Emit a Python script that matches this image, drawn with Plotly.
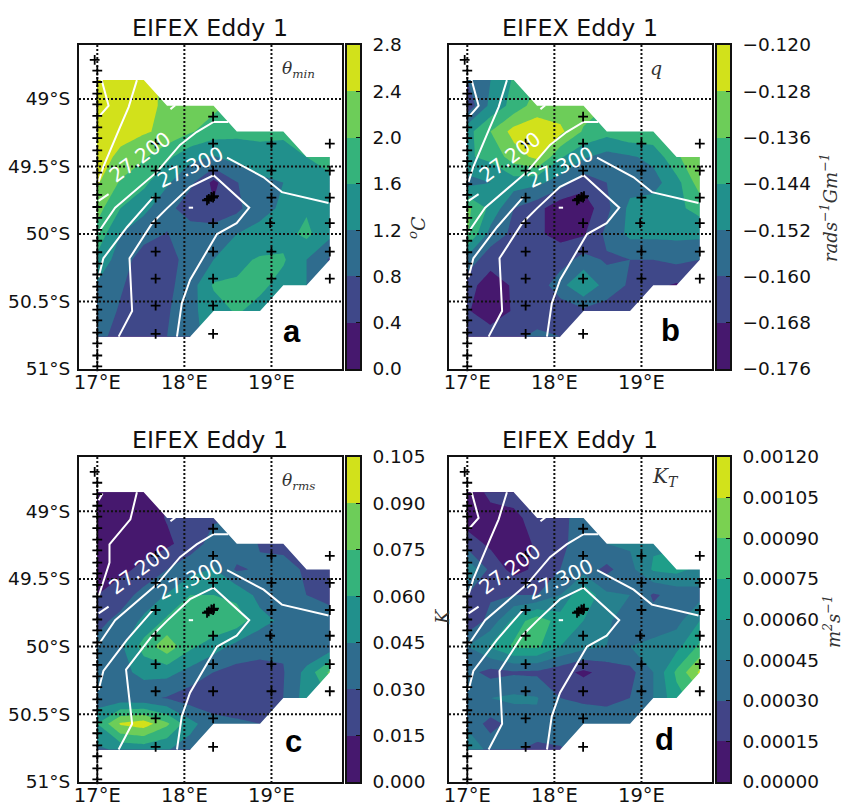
import plotly.graph_objects as go

# ---------- data grid ----------
LON_GRID = [17.0, 17.267, 17.534, 17.801, 18.068, 18.335, 18.602, 18.869, 19.136, 19.403, 19.67]
LAT_GRID = [48.86, 49.05, 49.24, 49.43, 49.62, 49.81, 50.0, 50.19, 50.38, 50.57, 50.76]
ROW_LAST = [2, 5, 8, 10, 10, 10, 10, 10, 9, 7, 4]

THETA_MIN = [
    [2.6, 2.6, 2.5],
    [2.6, 2.6, 2.55, 2.3, 2.2, 2.1],
    [2.6, 2.55, 2.45, 2.3, 2.05, 1.8, 1.7, 1.7, 1.65],
    [2.6, 2.3, 2.05, 1.7, 1.3, 1.17, 1.35, 1.45, 1.5, 1.6, 1.75],
    [2.45, 1.95, 1.7, 1.25, 0.9, 0.3, 0.78, 1.1, 1.2, 1.35, 1.5],
    [2.15, 1.6, 1.3, 0.95, 0.55, 0.45, 0.7, 1.1, 1.25, 1.55, 1.35],
    [1.85, 1.2, 0.95, 0.78, 1.05, 1.05, 1.2, 1.3, 1.45, 1.7, 1.3],
    [1.5, 1.0, 0.6, 0.6, 1.0, 1.2, 1.5, 1.65, 1.65, 1.2, 0.75],
    [1.15, 0.85, 0.55, 0.7, 1.0, 1.65, 1.65, 1.7, 1.45, 1.2],
    [1.05, 0.75, 0.5, 0.75, 1.1, 1.4, 1.65, 1.45],
    [1.0, 0.55, 0.5, 0.8, 1.1],
]
PV_Q = [
    [-0.160, -0.152, -0.143],
    [-0.165, -0.150, -0.141, -0.132, -0.133, -0.132],
    [-0.147, -0.136, -0.125, -0.123, -0.126, -0.137, -0.141, -0.137, -0.137],
    [-0.145, -0.142, -0.132, -0.126, -0.143, -0.151, -0.155, -0.153, -0.150, -0.137, -0.131],
    [-0.155, -0.152, -0.148, -0.150, -0.156, -0.165, -0.160, -0.155, -0.155, -0.147, -0.132],
    [-0.134, -0.146, -0.160, -0.165, -0.174, -0.173, -0.162, -0.150, -0.148, -0.146, -0.141],
    [-0.135, -0.155, -0.162, -0.167, -0.170, -0.169, -0.158, -0.150, -0.150, -0.150, -0.150],
    [-0.155, -0.165, -0.167, -0.167, -0.164, -0.157, -0.161, -0.160, -0.160, -0.158, -0.160],
    [-0.165, -0.172, -0.167, -0.165, -0.155, -0.144, -0.156, -0.161, -0.166, -0.169],
    [-0.167, -0.174, -0.167, -0.165, -0.165, -0.162, -0.163, -0.165],
    [-0.160, -0.163, -0.162, -0.158, -0.160],
]
THETA_RMS = [
    [0.010, 0.008, 0.008],
    [0.010, 0.008, 0.008, 0.016, 0.022, 0.028],
    [0.012, 0.009, 0.010, 0.012, 0.022, 0.036, 0.038, 0.029, 0.026],
    [0.012, 0.012, 0.018, 0.030, 0.040, 0.046, 0.028, 0.032, 0.035, 0.028, 0.027],
    [0.015, 0.022, 0.036, 0.046, 0.060, 0.060, 0.056, 0.040, 0.038, 0.030, 0.028],
    [0.025, 0.035, 0.048, 0.063, 0.070, 0.073, 0.068, 0.050, 0.042, 0.035, 0.033],
    [0.035, 0.042, 0.066, 0.085, 0.063, 0.052, 0.040, 0.035, 0.032, 0.030, 0.036],
    [0.030, 0.040, 0.050, 0.050, 0.040, 0.030, 0.025, 0.025, 0.029, 0.050, 0.078],
    [0.035, 0.035, 0.033, 0.029, 0.022, 0.022, 0.022, 0.025, 0.030, 0.052],
    [0.060, 0.092, 0.098, 0.078, 0.050, 0.035, 0.032, 0.030],
    [0.042, 0.048, 0.050, 0.046, 0.038],
]
K_T = [
    [0.00010, 0.00017, 0.00020],
    [0.00008, 0.00012, 0.00012, 0.00020, 0.00025, 0.00038],
    [0.00022, 0.00012, 0.00008, 0.00017, 0.00025, 0.00040, 0.00045, 0.00047, 0.00058],
    [0.00060, 0.00025, 0.00010, 0.00018, 0.00030, 0.00038, 0.00026, 0.00040, 0.00062, 0.00065, 0.00055],
    [0.00030, 0.00028, 0.00030, 0.00030, 0.00045, 0.00075, 0.00048, 0.00045, 0.00028, 0.00035, 0.00040],
    [0.00018, 0.00035, 0.00065, 0.00085, 0.00068, 0.00060, 0.00048, 0.00035, 0.00035, 0.00040, 0.00060],
    [0.00045, 0.00062, 0.00078, 0.00078, 0.00060, 0.00050, 0.00045, 0.00045, 0.00050, 0.00055, 0.00078],
    [0.00035, 0.00025, 0.00028, 0.00027, 0.00020, 0.00012, 0.00020, 0.00025, 0.00045, 0.00078, 0.00108],
    [0.00040, 0.00045, 0.00048, 0.00046, 0.00030, 0.00027, 0.00025, 0.00030, 0.00045, 0.00070],
    [0.00040, 0.00025, 0.00035, 0.00042, 0.00042, 0.00040, 0.00040, 0.00042],
    [0.00062, 0.00038, 0.00032, 0.00025, 0.00028],
]

# ---------- stations ----------
STATION_LON = [16.97] + [17.0] * 27 + [17.67] * 8 + [18.33] * 9 + [19.0, 19.0, 19.0, 18.985, 19.0, 19.0] + [19.67] * 6 + [18.26, 18.28, 18.31, 18.34]
STATION_LAT = [48.71,
    48.79, 48.874, 48.96, 49.04, 49.125, 49.21, 49.29, 49.38, 49.46, 49.545, 49.63, 49.71, 49.80, 49.88,
    49.97, 50.05, 50.135, 50.22, 50.30, 50.39, 50.47, 50.56, 50.64, 50.73, 50.81, 50.90, 50.98,
    49.33, 49.53, 49.73, 49.92, 50.13, 50.33, 50.53, 50.74,
    49.13, 49.33, 49.53, 49.73, 49.92, 50.13, 50.33, 50.53, 50.74,
    49.33, 49.53, 49.73, 49.92, 50.13, 50.33,
    49.33, 49.53, 49.73, 49.92, 50.13, 50.33,
    49.75, 49.74, 49.725, 49.72]

# ---------- isopycnals ----------
ISO_SMALL = ([17.02, 17.13, 17.05], [49.13, 49.05, 48.86])
ISO_SMALL_C = ([17.015, 17.06], [48.92, 48.87])
ISO_B = ([17.015, 17.07, 17.26, 17.36, 17.455], [49.615, 49.50, 49.21, 49.06, 48.86])
ISO_B_C = ([17.015, 17.14, 17.14, 17.38, 17.455], [49.63, 49.38, 49.245, 49.06, 48.86])
ISO_C1 = ([17.015, 17.13], [49.755, 49.705])
ISO_C2 = ([17.84, 17.895], [49.075, 49.047])
ISO_D = ([17.015, 17.205, 17.685, 17.95, 18.14, 18.335, 18.505], [49.985, 49.805, 49.54, 49.34, 49.245, 49.17, 49.17])
ISO_E1 = ([17.015, 17.07, 17.34, 17.645], [50.32, 50.18, 49.95, 49.725])
ISO_E2 = ([18.49, 18.91, 19.12, 19.655], [49.435, 49.58, 49.69, 49.77])
ISO_F = ([17.245, 17.40, 17.37, 17.63, 17.80, 18.065, 18.335, 18.745, 18.60, 18.375, 18.065, 17.97, 17.915],
         [50.76, 50.57, 50.18, 49.92, 49.81, 49.65, 49.565, 49.805, 49.92, 50.0, 50.34, 50.515, 50.76])
ISO_F_C = ([17.245, 17.40, 17.33, 17.63, 17.80, 18.065, 18.335, 18.745, 18.60, 18.375, 18.065, 17.97, 17.915],
           [50.76, 50.57, 50.17, 49.92, 49.81, 49.65, 49.565, 49.805, 49.92, 50.0, 50.34, 50.515, 50.76])
ISO_SPOT = ([18.05, 18.10], [49.805, 49.805])

LABEL_TEXT = ["27.200", "27.300"]
LABEL_LON = [17.49, 18.07]
LABEL_LAT = [49.43, 49.50]

# ---------- ticks ----------
LON_TICKS = [17, 18, 19]
LON_LABELS = ["17°E", "18°E", "19°E"]
LAT_TICKS = [49, 49.5, 50, 50.5, 51]
LAT_LABELS = ["49°S", "49.5°S", "50°S", "50.5°S", "51°S"]

CB_A = [0.0, 0.4, 0.8, 1.2, 1.6, 2.0, 2.4, 2.8]
CB_B = [-0.176, -0.168, -0.160, -0.152, -0.144, -0.136, -0.128, -0.120]
CB_C = [0.000, 0.015, 0.030, 0.045, 0.060, 0.075, 0.090, 0.105]
CB_D = [0.00000, 0.00015, 0.00030, 0.00045, 0.00060, 0.00075, 0.00090, 0.00105, 0.00120]

COLORS_7 = ["#46186e", "#3f4889", "#2f6c8e", "#21908c", "#35b37b", "#6dcd59", "#d2e11b"]
COLORS_8 = ["#46186e", "#414487", "#2f6b8e", "#26818e", "#1f9e89", "#3dbc74", "#7ad151", "#d2e21b"]

# ---------- layout helpers ----------
W, H = 845, 803
def pad(rows):
    return [r + [None] * (len(LON_GRID) - len(r)) for r in rows]

def scale(colors):
    n = len(colors) + 1
    out = [[0, colors[0]]]
    for i, c in enumerate(colors):
        out.append([(i + 1) / n, c])
    out.append([1, colors[-1]])
    return out

def mask_path():
    over = 0.02
    xs, ys = [LON_GRID[ROW_LAST[0]]], [LAT_GRID[0] - over]
    for j, last in enumerate(ROW_LAST):
        y = LAT_GRID[j]
        if j > 0 and last > ROW_LAST[j - 1]:
            xs.append(LON_GRID[ROW_LAST[j - 1] + 1]); ys.append(y)
        xs.append(LON_GRID[last]); ys.append(y)
        if j + 1 < len(ROW_LAST) and ROW_LAST[j + 1] < last:
            xs.append(LON_GRID[ROW_LAST[j + 1] + 1]); ys.append(y)
    xs += [LON_GRID[ROW_LAST[-1]], LON_GRID[-1] + over, LON_GRID[-1] + over]
    ys += [LAT_GRID[-1] + over, LAT_GRID[-1] + over, LAT_GRID[0] - over]
    return xs, ys

panels = [
    dict(z=THETA_MIN, cb=CB_A, colors=COLORS_7, fmt=".1f", l=79, t=45, b=369, cbx=347, ylab=True,
         sym="<i>θ<sub>min</sub></i>", symsize=17, symx=298, symy=69, let="a", letx=292, lety=331),
    dict(z=PV_Q, cb=CB_B, colors=COLORS_7, fmt=".3f", l=449, t=45, b=369, cbx=717, ylab=False,
         sym="<i>q</i>", symsize=19, symx=656, symy=68, let="b", letx=670, lety=330),
    dict(z=THETA_RMS, cb=CB_C, colors=COLORS_7, fmt=".3f", l=79, t=457, b=782, cbx=347, ylab=True,
         sym="<i>θ<sub>rms</sub></i>", symsize=17, symx=298, symy=482, let="c", letx=293, lety=741),
    dict(z=K_T, cb=CB_D, colors=COLORS_8, fmt=".5f", l=449, t=457, b=782, cbx=717, ylab=False,
         sym="<i>K<sub>T</sub></i>", symsize=20, symx=665, symy=477, let="d", letx=664, lety=739),
]

FONT = "DejaVu Sans"
SERIF = "DejaVu Serif"
INK = "#111111"
fig = go.Figure()
layout_axes = {}
annotations = []
def ann(px, py, text, size, family=FONT, angle=0, color=INK):
    annotations.append(dict(xref="paper", yref="paper", x=px / W, y=1 - py / H, text=text, showarrow=False,
                            xanchor="center", yanchor="middle", textangle=angle,
                            font=dict(size=size, family=family, color=color)))

mx, my = mask_path()
for k, p in enumerate(panels, start=1):
    xa, ya = f"x{k}", f"y{k}"
    step = p["cb"][1] - p["cb"][0]
    fig.add_trace(go.Contour(
        x=LON_GRID, y=LAT_GRID, z=pad(p["z"]), connectgaps=True, xaxis=xa, yaxis=ya,
        autocontour=False, hoverinfo="skip", showscale=False,
        contours=dict(start=p["cb"][0], end=p["cb"][-1], size=step, coloring="fill", showlines=False),
        line=dict(width=0, smoothing=0), colorscale=scale(p["colors"]),
    ))
    # white mask outside the data footprint
    fig.add_trace(go.Scatter(x=mx, y=my, mode="none", fill="toself", fillcolor="white",
                             xaxis=xa, yaxis=ya, showlegend=False, hoverinfo="skip"))
    # dotted graticule
    for v in LON_TICKS:
        fig.add_trace(go.Scatter(x=[v, v], y=[48.6, 51.0], mode="lines", xaxis=xa, yaxis=ya, showlegend=False,
                                 hoverinfo="skip", line=dict(color=INK, width=2, dash="2px,2px")))
    for v in LAT_TICKS[:-1]:
        fig.add_trace(go.Scatter(x=[16.79, 19.81], y=[v, v], mode="lines", xaxis=xa, yaxis=ya, showlegend=False,
                                 hoverinfo="skip", line=dict(color=INK, width=2, dash="2px,2px")))
    # isopycnals
    small = ISO_SMALL_C if k == 3 else ISO_SMALL
    iso_b = ISO_B_C if k == 3 else ISO_B
    iso_f = ISO_F_C if k == 3 else ISO_F
    for lx, ly in [small, iso_b, ISO_C1, ISO_C2, ISO_D, ISO_E1, ISO_E2, iso_f, ISO_SPOT]:
        fig.add_trace(go.Scatter(x=lx, y=ly, mode="lines", xaxis=xa, yaxis=ya, showlegend=False, hoverinfo="skip",
                                 line=dict(color="white", width=2)))
    # stations
    fig.add_trace(go.Scatter(x=STATION_LON, y=STATION_LAT, mode="markers", xaxis=xa, yaxis=ya, showlegend=False,
                             hoverinfo="skip", cliponaxis=False,
                             marker=dict(symbol="cross-thin", size=7, line=dict(color="black", width=1.8))))
    # domains and axes
    dom_x = [p["l"] / W, (p["l"] + 263) / W]
    dom_y = [1 - p["b"] / H, 1 - p["t"] / H]
    suffix = "" if k == 1 else str(k)
    layout_axes["xaxis" + suffix] = dict(domain=dom_x, range=[16.79, 19.81], anchor=ya, tickmode="array", automargin=False,
        tickvals=LON_TICKS, ticktext=LON_LABELS, showgrid=False, zeroline=False, showline=True, mirror=True,
        linecolor=INK, linewidth=2, ticks="", ticklabelstandoff=-5, tickfont=dict(size=19.5, family=FONT, color=INK))
    layout_axes["yaxis" + suffix] = dict(domain=dom_y, range=[51.0, 48.6], anchor=xa, tickmode="array", automargin=False,
        tickvals=LAT_TICKS, ticktext=LAT_LABELS, showgrid=False, zeroline=False, showline=True, mirror=True,
        showticklabels=p["ylab"], ticklabelstandoff=3,
        linecolor=INK, linewidth=2, ticks="", tickfont=dict(size=18.5, family=FONT, color=INK))

    # colour key: one band per contour interval, on its own axes
    n = len(p["colors"])
    cx, cy = f"x{k + 4}", f"y{k + 4}"
    fig.add_trace(go.Heatmap(x=[0, 1], y=p["cb"], z=[[i] for i in range(n)], xaxis=cx, yaxis=cy, showscale=False,
                             zmin=0, zmax=n - 1, hoverinfo="skip",
                             colorscale=[[i / (n - 1), c] for i, c in enumerate(p["colors"])]))
    layout_axes[f"xaxis{k + 4}"] = dict(domain=[p["cbx"] / W, (p["cbx"] + 13) / W], range=[0, 1], anchor=cy, automargin=False,
        showticklabels=False, ticks="", showgrid=False, zeroline=False, showline=True, mirror=True,
        linecolor=INK, linewidth=1.5)
    layout_axes[f"yaxis{k + 4}"] = dict(domain=dom_y, range=[p["cb"][0], p["cb"][-1]], anchor=cx, side="right", automargin=False,
        tickmode="array", tickvals=p["cb"], tickformat=p["fmt"], ticks="inside", ticklen=4, tickcolor=INK,
        ticklabelstandoff=7, showgrid=False, zeroline=False, showline=True, mirror=True, linecolor=INK,
        linewidth=1.5, tickfont=dict(size=18.5, family=FONT, color=INK))

    for t, lon, lat, ang in zip(LABEL_TEXT, LABEL_LON, LABEL_LAT, [-36, -25]):
        annotations.append(dict(xref=xa, yref=ya, x=lon, y=lat, text=t, showarrow=False, textangle=ang,
                                font=dict(size=20, family=FONT, color="white")))
    ann(p["l"] + 131, p["t"] - 17, "EIFEX Eddy 1", 23.7)
    ann(p["symx"], p["symy"], p["sym"], p["symsize"], SERIF, color="#333333")
    ann(p["letx"], p["lety"], f"<b>{p['let']}</b>", 31, "Liberation Sans", color="black")

ann(417, 228, "<i><sup>o</sup>C</i>", 19, SERIF, -90, "#333333")
ann(829, 208, "<i>rads<sup>−1</sup>Gm<sup>−1</sup></i>", 18, SERIF, -90, "#333333")
ann(832, 622, "<i>m<sup>2</sup>s<sup>−1</sup></i>", 18, SERIF, -90, "#333333")
ann(442, 617, "<i>K</i>", 19, SERIF, -90, "#333333")

fig.update_layout(width=W, height=H, margin=dict(l=0, r=0, t=0, b=0), plot_bgcolor="white", paper_bgcolor="white",
                  showlegend=False, annotations=annotations, **layout_axes)
fig.write_html("out.html", config=dict(displayModeBar=False),
               post_script="document.body.style.margin='0';document.body.style.overflow='hidden';")
